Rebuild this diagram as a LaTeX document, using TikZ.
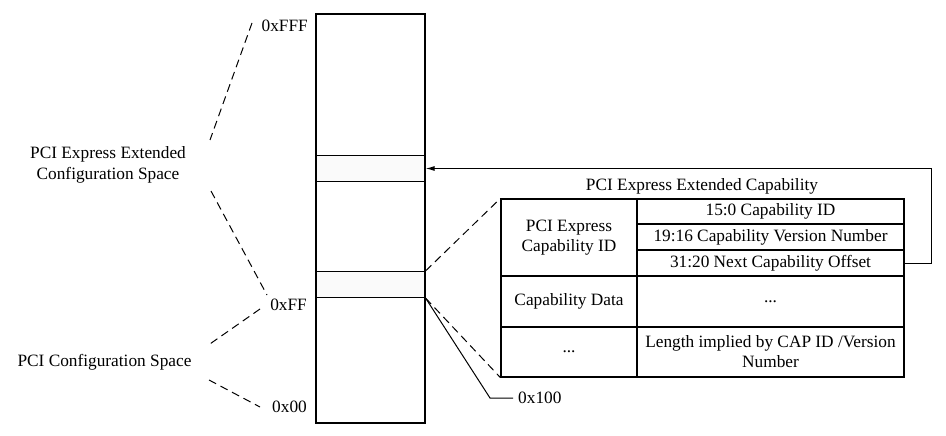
\documentclass[tikz,border=0pt]{standalone}
\usepackage{fontspec}
\setmainfont{Liberation Serif}
\usetikzlibrary{arrows.meta}
\begin{document}
\begin{tikzpicture}[x=1pt,y=-1pt,
  lbl/.style={font=\fontsize{17.3}{21}\selectfont, inner sep=0pt, align=center},
  cell/.style={draw, line width=1.2pt, inner sep=0pt, align=center, font=\fontsize{17.3}{20}\selectfont},
  band/.style={draw, line width=1.2pt, fill=black!2, inner sep=0pt},
  dsh/.style={line width=1pt, dash pattern=on 8pt off 5pt},
  sol/.style={line width=1pt}]
\useasboundingbox (0,0) rectangle (946,436);
% column
\node[draw, line width=1.2pt, minimum width=109pt, minimum height=409pt, inner sep=0pt] (col) at (370.5,218.5) {};
\node[band, minimum width=109pt, minimum height=26pt] (b1) at (370.5,168.5) {};
\node[band, minimum width=109pt, minimum height=26pt] (b2) at (370.5,284.5) {};
% address labels
\node[lbl, anchor=east] (fff) at (308,26) {0xFFF};
\node[lbl, anchor=east] (ff) at (307,305) {0xFF};
\node[lbl, anchor=east] (z) at (307,407) {0x00};
\node[lbl] (ext) at (108,165) {PCI Express Extended\\Configuration Space};
\node[lbl] (cfg) at (104.5,362) {PCI Configuration Space};
% dashed braces
\coordinate (d1a) at (252,23); \coordinate (d1b) at (210,140);
\coordinate (d2a) at (211,191); \coordinate (d2b) at (267,295);
\coordinate (d3a) at (260,309); \coordinate (d3b) at (207,346);
\coordinate (d4a) at (209,380); \coordinate (d4b) at (260,407);
\draw[dsh] (d1a) -- (d1b);
\draw[dsh] (d2a) -- (d2b);
\draw[dsh] (d3a) -- (d3b);
\draw[dsh] (d4a) -- (d4b);
% table
\node[cell, minimum width=136pt, minimum height=77pt] (cid) at (569,237.5) {PCI Express\\Capability ID};
\node[cell, minimum width=136pt, minimum height=51pt] (cdata) at (569,301.5) {Capability Data};
\node[cell, minimum width=136pt, minimum height=50pt] (cdots) at (569,352) {...};
\node[cell, minimum width=267pt, minimum height=25pt] (r1) at (770.5,211.5) {15:0 Capability ID};
\node[cell, minimum width=267pt, minimum height=26pt] (r2) at (770.5,237) {19:16 Capability Version Number};
\node[cell, minimum width=267pt, minimum height=26pt] (r3) at (770.5,263) {31:20 Next Capability Offset};
\node[cell, minimum width=267pt, minimum height=51pt] (r4) at (770.5,301.5) {...};
\node[cell, minimum width=267pt, minimum height=50pt] (r5) at (770.5,352) {Length implied by CAP ID /Version\\Number};
\node[lbl] (cap) at (702,186) {PCI Express Extended Capability};
% zoom lines
\draw[dsh] (b2.north east) -- (cid.north west);
\draw[dsh] (b2.south east) -- (cdots.south west);
\coordinate (k) at (490,398);
\node[lbl, anchor=west] (x100) at (518,398) {0x100};
\draw[sol] (b2.south east) -- (k) -- ([xshift=-5pt]x100.west);
% arrow
\coordinate (a1) at (931,263);
\coordinate (a2) at (931,168.5);
\draw[sol, -{Latex[length=9pt,width=5pt]}] (r3.east) -- (a1) -- (a2) -- (b1.east);
\end{tikzpicture}
\end{document}
